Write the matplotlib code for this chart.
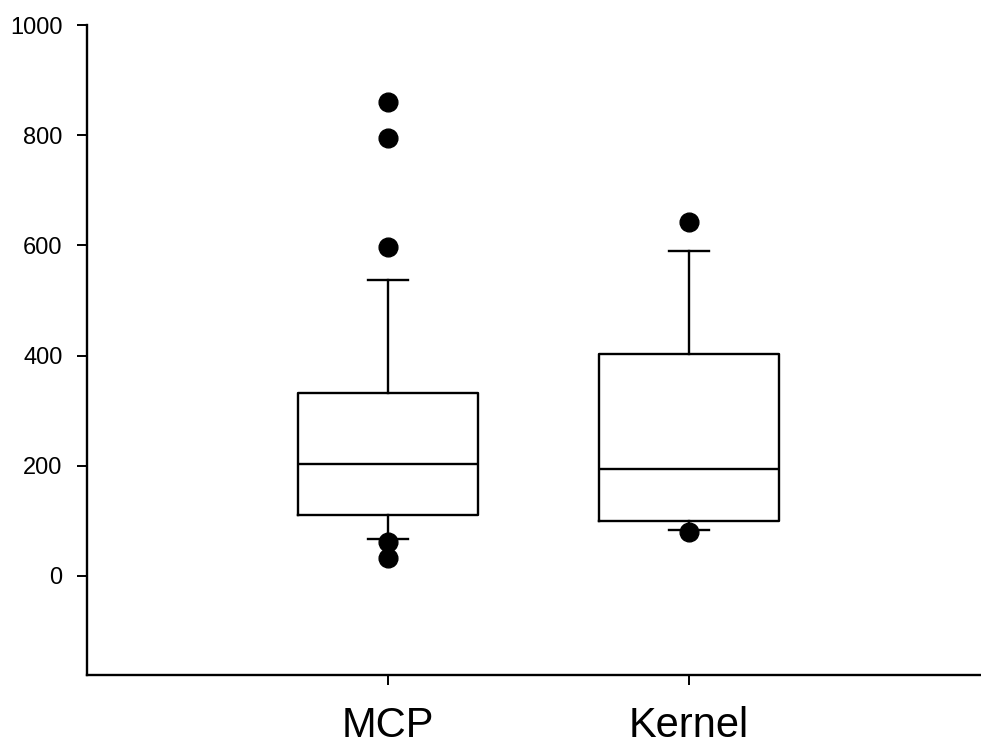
# -*- coding: utf-8 -*-
"""
Boxplot MCP vs Kernel (SigmaPlot-like style)
"""

import matplotlib
matplotlib.use("Agg")
import matplotlib.pyplot as plt

plt.rcParams['font.family'] = ['Liberation Sans', 'DejaVu Sans']

# ---------------- data ----------------------------------------
groups = ['MCP', 'Kernel']
positions = [1, 2]

q1 = [111, 100]
median = [203, 194]
q3 = [332, 403]
whisker_low = [67, 83]
whisker_high = [537, 590]
outliers = [
    [860, 795, 597, 62, 33],
    [642, 80],
]

y_ticks = [0, 200, 400, 600, 800, 1000]

# ---------------- stats for bxp -----------------
stats = []
for i, name in enumerate(groups):
    stats.append({
        'label': name,
        'q1': q1[i],
        'med': median[i],
        'q3': q3[i],
        'whislo': whisker_low[i],
        'whishi': whisker_high[i],
        'fliers': outliers[i],
    })

fig = plt.figure(figsize=(9.81, 7.49), dpi=100)
ax = fig.add_axes([87 / 981, 74 / 749, (981 - 87) / 981, (675 - 25) / 749])

lw = 1.7
ax.bxp(
    stats,
    positions=positions,
    widths=0.6,
    capwidths=0.13,
    boxprops=dict(color='black', linewidth=lw),
    medianprops=dict(color='black', linewidth=lw),
    whiskerprops=dict(color='black', linewidth=lw),
    capprops=dict(color='black', linewidth=lw),
    flierprops=dict(marker='o', markerfacecolor='black', markeredgecolor='black',
                    markersize=13.5, linestyle='none'),
)

ax.set_xlim(0, 2.97)
ax.set_ylim(-180, 1000)
ax.set_yticks(y_ticks)
ax.set_xticks(positions)
ax.set_xticklabels(groups)

for side in ['top', 'right']:
    ax.spines[side].set_visible(False)
for side in ['left', 'bottom']:
    ax.spines[side].set_linewidth(1.7)

ax.tick_params(axis='y', direction='out', length=7.5, width=1.4, pad=10, labelsize=17)
ax.tick_params(axis='x', direction='out', length=7.5, width=1.4, pad=15, labelsize=30)

fig.savefig('out.png', dpi=100)
